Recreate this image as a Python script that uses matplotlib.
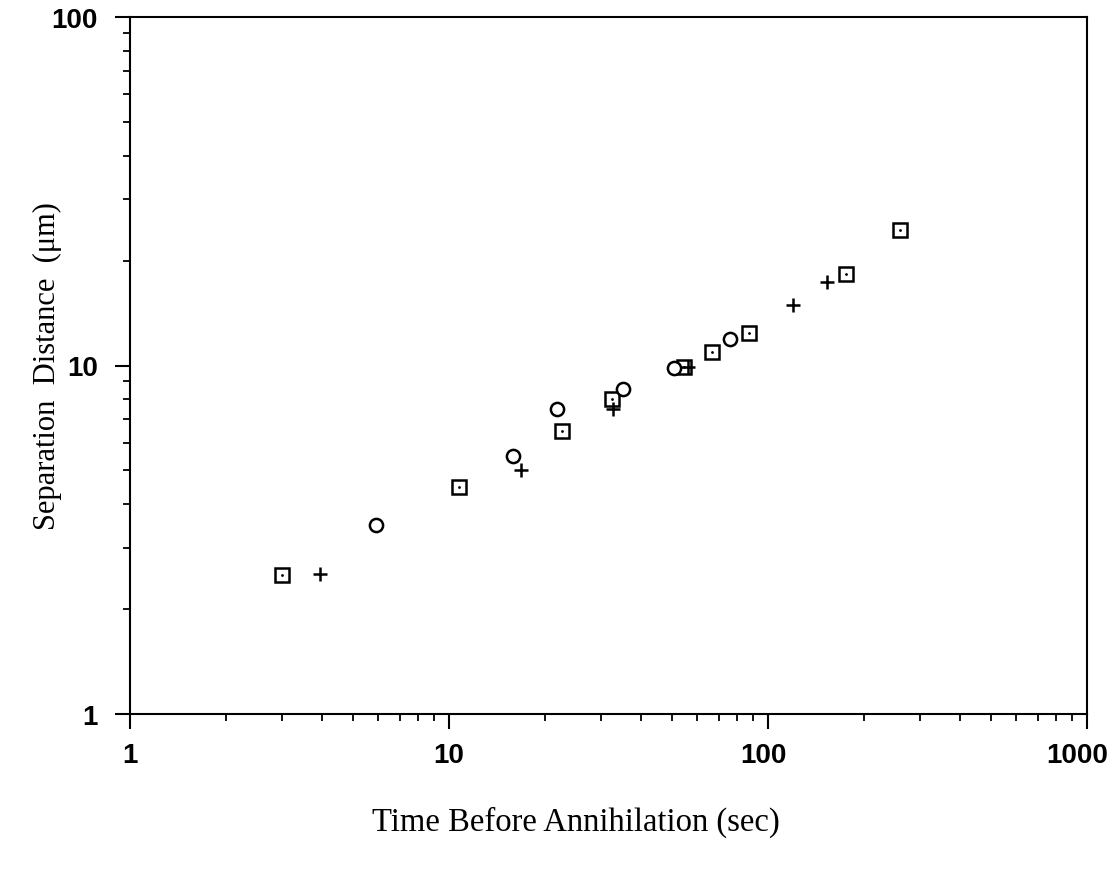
import matplotlib.pyplot as plt
import matplotlib.transforms as mtransforms
import numpy as np
from matplotlib.ticker import LogLocator, NullFormatter, FixedFormatter, FixedLocator

# values (log-log)
sq_t = [3.0, 10.75, 22.6, 32.4, 54.5, 66.7, 87.4, 176, 259]
sq_d = [2.51, 4.48, 6.48, 8.02, 9.9, 10.95, 12.4, 18.3, 24.5]
circ_t = [5.9, 15.85, 21.8, 35, 50.7, 76]
circ_d = [3.49, 5.51, 7.51, 8.57, 9.85, 11.9]
plus_t = [3.94, 16.8, 32.7, 56.1, 119.5, 152.7]
plus_d = [2.52, 5.02, 7.5, 9.9, 14.9, 17.35]

xticks = [1, 10, 100, 1000]
xlabels = ['1', '10', '100', '1000']
yticks = [1, 10, 100]
ylabels = ['1', '10', '100']

fig = plt.figure(figsize=(11.16, 8.7), dpi=100)
ax = fig.add_axes([130/1116, 155/870, 957/1116, 697/870])

ax.plot(sq_t, sq_d, ls='none', marker='s', ms=9.5, mfc='white', mec='black', mew=1.8)
ax.plot(sq_t, sq_d, ls='none', marker='.', ms=2, color='black')
ax.plot(circ_t, circ_d, ls='none', marker='o', ms=9.5, mfc='white', mec='black', mew=1.8)
ax.plot(plus_t, plus_d, ls='none', marker='+', ms=10, mec='black', mew=1.8)

ax.set_xscale('log')
ax.set_yscale('log')
ax.set_xlim(1, 1000)
ax.set_ylim(1, 100)

ax.xaxis.set_major_locator(FixedLocator(xticks))
ax.xaxis.set_major_formatter(FixedFormatter(xlabels))
ax.yaxis.set_major_locator(FixedLocator(yticks))
ax.yaxis.set_major_formatter(FixedFormatter(ylabels))
ax.xaxis.set_minor_locator(LogLocator(base=10, subs=np.arange(2, 10)))
ax.yaxis.set_minor_locator(LogLocator(base=10, subs=np.arange(2, 10)))
ax.xaxis.set_minor_formatter(NullFormatter())
ax.yaxis.set_minor_formatter(NullFormatter())

for s in ax.spines.values():
    s.set_linewidth(1.5)

ax.tick_params(which='major', direction='out', length=11, width=1.5,
               labelsize=20, top=False, right=False)
ax.tick_params(which='minor', direction='out', length=5, width=1.3,
               top=False, right=False)
ax.tick_params(axis='x', which='major', pad=9)
ax.tick_params(axis='y', which='major', pad=12)
for lab in ax.get_xticklabels() + ax.get_yticklabels():
    lab.set_fontfamily('Liberation Sans')
    lab.set_fontweight('bold')

# the original's right-hand x labels sit a little left of their ticks
shifts = [0, 0, -5, -10]
for lab, dx in zip(ax.get_xticklabels(), shifts):
    off = mtransforms.ScaledTranslation(dx / 100, 0, fig.dpi_scale_trans)
    lab.set_transform(lab.get_transform() + off)

fig.text(576/1116, 1 - 822/870, 'Time Before Annihilation (sec)',
         ha='center', va='center', fontsize=23.5, family='Liberation Serif')
fig.text(47/1116, 1 - 366/870, 'Separation  Distance  (\u03bcm)',
         ha='center', va='center', rotation=90, fontsize=22, family='Liberation Serif')

fig.savefig('out.png', dpi=100)
